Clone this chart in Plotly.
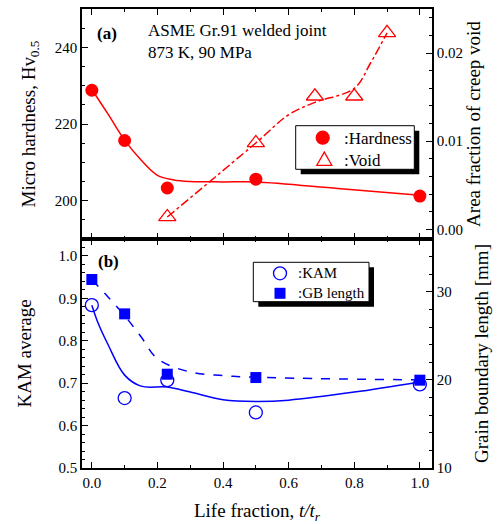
import plotly.graph_objects as go

# ---------------- data ----------------
life_hard = [0.0, 0.1, 0.23, 0.5, 1.0]
hardness = [228.8, 215.7, 203.3, 205.6, 201.2]

hard_fit_x = [0.0, 0.05, 0.1, 0.15, 0.2, 0.25, 0.3, 0.4, 0.5, 0.75, 1.0]
hard_fit_y = [229.0, 222.5, 215.8, 210.6, 206.6, 205.4, 205.0, 204.9, 204.9, 203.2, 201.4]

life_void = [0.23, 0.5, 0.68, 0.8, 0.9]
void_frac = [0.0014, 0.0098, 0.0151, 0.0151, 0.0223]

void_fit_x = [0.23, 0.5, 0.6, 0.68, 0.8, 0.85, 0.9]
void_fit_y = [0.0014, 0.0098, 0.0130, 0.0144, 0.0160, 0.0189, 0.0223]

life_kam = [0.0, 0.1, 0.23, 0.5, 1.0]
kam = [0.884, 0.665, 0.707, 0.631, 0.697]

kam_fit_x = [0.0, 0.02, 0.05, 0.1, 0.15, 0.23, 0.3, 0.4, 0.5, 0.6, 0.8, 1.0]
kam_fit_y = [0.884, 0.84, 0.79, 0.719, 0.693, 0.691, 0.679, 0.661, 0.657, 0.660, 0.679, 0.703]

life_gb = [0.0, 0.1, 0.23, 0.5, 1.0]
gb_len = [31.4, 27.5, 20.65, 20.27, 19.97]

gb_fit_x = [0.0, 0.05, 0.1, 0.15, 0.2, 0.3, 0.4, 0.5, 1.0]
gb_fit_y = [31.4, 29.4, 27.3, 24.9, 22.4, 20.9, 20.5, 20.3, 20.0]

legend_top_labels = [":Hardness", ":Void"]
legend_bot_labels = [":KAM", ":GB length"]

RED = "#ff0000"
BLUE = "#0000ff"
FONT = "Liberation Serif"

# plot area in pixels
L, R, T, B = 82, 69, 9, 56
W, H = 501, 524
PW, PH = W - L - R, H - T - B


def px(xp):
    return (xp - L) / PW


def py(yp):
    return (H - B - yp) / PH


fig = go.Figure()

# ---- top panel ----
fig.add_trace(go.Scatter(x=hard_fit_x, y=hard_fit_y, mode="lines", line=dict(color=RED, width=1.5, shape="spline"),
                         xaxis="x2", yaxis="y3", showlegend=False, hoverinfo="skip"))
fig.add_trace(go.Scatter(x=void_fit_x, y=void_fit_y, mode="lines",
                         line=dict(color=RED, width=1.5, shape="spline", dash="dashdot"),
                         xaxis="x2", yaxis="y4", showlegend=False, hoverinfo="skip"))
fig.add_trace(go.Scatter(x=life_hard, y=hardness, mode="markers", name=legend_top_labels[0],
                         marker=dict(symbol="circle", size=13, color=RED),
                         xaxis="x2", yaxis="y3", showlegend=False))
fig.add_trace(go.Scatter(x=life_void, y=void_frac, mode="markers", name=legend_top_labels[1],
                         marker=dict(symbol="triangle-up-open", size=15, color=RED, line=dict(width=1.3)),
                         xaxis="x2", yaxis="y4", showlegend=False))

# ---- bottom panel ----
fig.add_trace(go.Scatter(x=kam_fit_x, y=kam_fit_y, mode="lines", line=dict(color=BLUE, width=1.5, shape="spline"),
                         xaxis="x", yaxis="y", showlegend=False, hoverinfo="skip"))
fig.add_trace(go.Scatter(x=gb_fit_x, y=gb_fit_y, mode="lines",
                         line=dict(color=BLUE, width=1.5, shape="spline", dash="dash"),
                         xaxis="x", yaxis="y2", showlegend=False, hoverinfo="skip"))
fig.add_trace(go.Scatter(x=life_kam, y=kam, mode="markers", name=legend_bot_labels[0],
                         marker=dict(symbol="circle-open", size=13, color=BLUE, line=dict(width=1.3)),
                         xaxis="x", yaxis="y", showlegend=False))
fig.add_trace(go.Scatter(x=life_gb, y=gb_len, mode="markers", name=legend_bot_labels[1],
                         marker=dict(symbol="square", size=11, color=BLUE),
                         xaxis="x", yaxis="y2", showlegend=False))

tickfont = dict(family=FONT, size=15, color="black")
titlefont = dict(family=FONT, size=19, color="black")


def ax(**kw):
    base = dict(showline=True, linecolor="black", linewidth=1.5, ticks="inside", ticklen=6,
                tickwidth=1.2, tickcolor="black", showgrid=False, zeroline=False, tickfont=tickfont,
                automargin=False)
    base.update(kw)
    return base


split = 229 / 459

# ---- hand-drawn legend boxes (shadow + box + sample symbols) ----
shapes = []
annotations = []


def legend_box(x0, y0, x1, y1, off):
    shapes.append(dict(type="rect", xref="paper", yref="paper", x0=px(x0 + off), x1=px(x1 + off),
                       y0=py(y1 + off), y1=py(y0 + off), fillcolor="black", line=dict(width=0), layer="above"))
    shapes.append(dict(type="rect", xref="paper", yref="paper", x0=px(x0), x1=px(x1),
                       y0=py(y1), y1=py(y0), fillcolor="white", line=dict(color="black", width=1),
                       layer="above"))


def circle(cx, cy, r, color, filled):
    shapes.append(dict(type="circle", xref="paper", yref="paper", xsizemode="pixel", ysizemode="pixel",
                       xanchor=px(cx), yanchor=py(cy), x0=-r, x1=r, y0=-r, y1=r,
                       fillcolor=color if filled else "white", line=dict(color=color, width=1.3),
                       layer="above"))


def square(cx, cy, r, color):
    shapes.append(dict(type="rect", xref="paper", yref="paper", xsizemode="pixel", ysizemode="pixel",
                       xanchor=px(cx), yanchor=py(cy), x0=-r, x1=r, y0=-r, y1=r,
                       fillcolor=color, line=dict(color=color, width=0), layer="above"))


def triangle(cx, cy, r, color):
    path = f"M {-r},{-r*0.8} L {r},{-r*0.8} L 0,{r*0.95} Z"
    shapes.append(dict(type="path", xref="paper", yref="paper", xsizemode="pixel", ysizemode="pixel",
                       xanchor=px(cx), yanchor=py(cy), path=path,
                       fillcolor="white", line=dict(color=color, width=1.3), layer="above"))


def label(x, y, text, size):
    annotations.append(dict(text=text, xref="paper", yref="paper", x=px(x), y=py(y), xanchor="left",
                            yanchor="middle", showarrow=False, font=dict(family=FONT, size=size, color="black")))


legend_box(295.7, 125.7, 414.3, 169.3, 5)
circle(322.7, 137.7, 6.5, RED, True)
triangle(324.3, 159.3, 7.5, RED)
label(342, 138, legend_top_labels[0], 17)
label(342, 160, legend_top_labels[1], 17)

legend_box(253.3, 262.3, 369, 301.7, 5)
circle(280, 273.3, 6.5, BLUE, False)
square(280, 293.3, 5.5, BLUE)
label(296, 273.3, legend_bot_labels[0], 15)
label(296, 292.5, legend_bot_labels[1], 15)

annotations += [
    dict(text="<b>(a)</b>", xref="paper", yref="paper", x=px(95), y=py(34), xanchor="left", yanchor="middle",
         showarrow=False, font=dict(family=FONT, size=17, color="black")),
    dict(text="ASME Gr.91 welded joint", xref="paper", yref="paper", x=px(146), y=py(31), xanchor="left",
         yanchor="middle", showarrow=False, font=dict(family=FONT, size=17, color="black")),
    dict(text="873 K, 90 MPa", xref="paper", yref="paper", x=px(146), y=py(52), xanchor="left",
         yanchor="middle", showarrow=False, font=dict(family=FONT, size=17, color="black")),
    dict(text="<b>(b)</b>", xref="paper", yref="paper", x=px(96), y=py(261), xanchor="left", yanchor="middle",
         showarrow=False, font=dict(family=FONT, size=17, color="black")),
]

fig.update_layout(
    width=W, height=H,
    margin=dict(l=L, r=R, t=T, b=B, autoexpand=False),
    paper_bgcolor="white", plot_bgcolor="white",
    showlegend=False,
    xaxis=ax(domain=[0, 1], anchor="y", range=[-0.03, 1.037], dtick=0.2, tick0=0, tickformat=".1f",
             mirror="ticks", minor=dict(ticks="inside", dtick=0.1, ticklen=3, tickcolor="black"),
             title=dict(text="Life fraction, <i>t/t<sub>r</sub></i>", font=titlefont, standoff=14)),
    xaxis2=ax(domain=[0, 1], anchor="y3", matches="x", range=[-0.03, 1.037], dtick=0.2, tick0=0,
              showticklabels=False, mirror="ticks",
              minor=dict(ticks="inside", dtick=0.1, ticklen=3, tickcolor="black")),
    yaxis=ax(domain=[0, split], anchor="x", range=[0.5, 1.04], dtick=0.1, tick0=0.5, tickformat=".1f",
             minor=dict(ticks="inside", dtick=0.02, ticklen=3, tickcolor="black"),
             title=dict(text="KAM average", font=titlefont, standoff=22)),
    yaxis2=ax(overlaying="y", side="right", anchor="x", range=[10, 36], dtick=10, tick0=10,
              minor=dict(ticks="inside", dtick=2, ticklen=3, tickcolor="black"),
              title=dict(text="Grain boundary length [mm]", font=titlefont, standoff=24)),
    yaxis3=ax(domain=[split, 1], anchor="x2", range=[190, 250], dtick=20, tick0=200,
              minor=dict(ticks="inside", dtick=5, ticklen=3, tickcolor="black"),
              title=dict(text="Micro hardness, Hv<sub>0.5</sub>", font=titlefont, standoff=14)),
    yaxis4=ax(overlaying="y3", side="right", anchor="x2", range=[-0.0011, 0.025], dtick=0.01, tick0=0,
              tickformat=".2f", minor=dict(ticks="inside", dtick=0.002, ticklen=3, tickcolor="black"),
              title=dict(text="Area fraction of creep void", font=titlefont, standoff=5)),
    shapes=shapes,
    annotations=annotations,
)

fig.write_html("out.html",
               config={"displayModeBar": False},
               post_script="document.body.style.margin='0';document.body.style.overflow='hidden';")
